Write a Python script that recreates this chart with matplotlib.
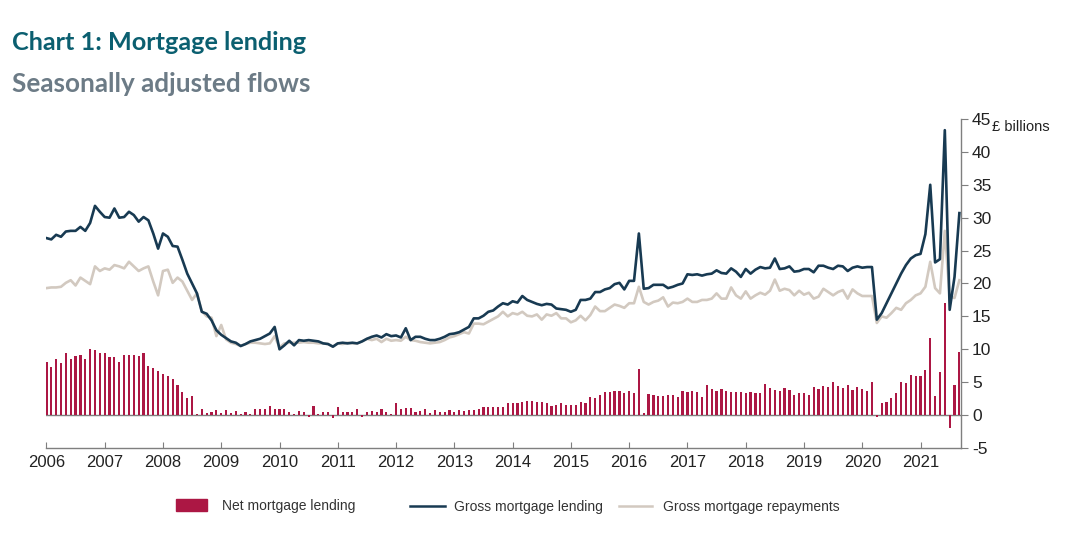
import numpy as np
import matplotlib
matplotlib.use("Agg")
import matplotlib.pyplot as plt
from matplotlib.patches import Patch
from matplotlib.lines import Line2D

# monthly data, Jan 2006 - Sep 2021, £ billions
gross = [
    26.9, 26.7, 27.4, 27.1, 27.9, 28.0, 28.0, 28.6, 28.0, 29.2, 31.8, 30.9,  # 2006
    30.1, 30.0, 31.4, 30.0, 30.1, 30.9, 30.4, 29.4, 30.1, 29.6, 27.6, 25.3,  # 2007
    27.6, 27.1, 25.7, 25.6, 23.6, 21.5, 20.0, 18.5, 15.7, 15.4, 14.4, 12.9,  # 2008
    12.2, 11.7, 11.2, 11.0, 10.5, 10.8, 11.2, 11.4, 11.6, 12.0, 12.4, 13.4,  # 2009
    10.0, 10.6, 11.3, 10.6, 11.4, 11.3, 11.4, 11.3, 11.2, 10.9, 10.8, 10.4,  # 2010
    10.9, 11.0, 10.9, 11.0, 10.9, 11.2, 11.6, 11.9, 12.1, 11.8, 12.3, 12.0,  # 2011
    12.1, 11.8, 13.2, 11.4, 11.9, 11.9, 11.6, 11.4, 11.4, 11.6, 11.9, 12.3,  # 2012
    12.4, 12.6, 13.0, 13.4, 14.7, 14.7, 15.1, 15.7, 15.9, 16.5, 17.0, 16.8,  # 2013
    17.3, 17.1, 18.1, 17.5, 17.2, 16.9, 16.7, 16.9, 16.8, 16.2, 16.1, 16.0,  # 2014
    15.7, 16.0, 17.5, 17.5, 17.7, 18.7, 18.7, 19.1, 19.3, 19.9, 20.1, 19.1,  # 2015
    20.4, 20.4, 27.6, 19.2, 19.3, 19.8, 19.8, 19.8, 19.3, 19.5, 19.8, 20.0,  # 2016
    21.4, 21.3, 21.4, 21.2, 21.4, 21.5, 22.0, 21.6, 21.5, 22.3, 21.8, 21.0,  # 2017
    22.2, 21.5, 22.1, 22.5, 22.3, 22.4, 23.8, 22.2, 22.3, 22.6, 21.8, 21.9,  # 2018
    22.2, 22.2, 21.7, 22.7, 22.7, 22.4, 22.2, 22.7, 22.6, 21.9, 22.4, 22.6,  # 2019
    22.4, 22.5, 22.5, 14.5, 15.5, 17.0, 18.5, 20.0, 21.5, 22.8, 23.8, 24.3,  # 2020
    24.5, 27.5, 35.0, 23.2, 23.7, 43.3, 16.0, 21.0, 30.7,                    # 2021
]

repayments = [
    19.3, 19.4, 19.4, 19.5, 20.1, 20.5, 19.7, 20.9, 20.4, 19.9, 22.6, 21.9,
    22.3, 22.1, 22.8, 22.6, 22.3, 23.3, 22.6, 21.9, 22.3, 22.6, 20.3, 18.2,
    21.9, 22.1, 20.1, 20.9, 20.3, 18.9, 17.5, 18.5, 15.8, 15.0, 14.8, 12.0,
    13.7, 11.5, 11.0, 10.8, 10.5, 10.8, 11.0, 11.0, 10.9, 10.8, 10.9, 12.0,
    10.3, 10.9, 11.0, 11.0, 11.0, 11.1, 11.0, 11.0, 10.9, 10.9, 10.8, 10.4,
    10.9, 10.8, 11.0, 10.9, 10.9, 11.2, 11.6, 11.4, 11.6, 11.1, 11.6, 11.3,
    11.4, 11.3, 11.9, 11.4, 11.3, 11.1, 11.0, 10.9, 11.0, 11.1, 11.4, 11.8,
    12.0, 12.3, 12.6, 12.4, 13.9, 13.9, 13.8, 14.2, 14.6, 15.0, 15.7, 15.0,
    15.5, 15.3, 15.7, 15.1, 15.0, 15.3, 14.5, 15.3, 15.1, 15.5, 14.7, 14.7,
    14.1, 14.4, 15.1, 14.4, 15.2, 16.5, 15.8, 15.8, 16.3, 16.8, 16.6, 16.3,
    17.0, 17.0, 19.5, 17.2, 16.8, 17.2, 17.4, 17.9, 16.5, 17.1, 17.0, 17.2,
    17.7, 17.2, 17.2, 17.5, 17.5, 17.7, 18.5, 17.7, 17.7, 19.4, 18.2, 17.7,
    18.8, 17.7, 18.2, 18.6, 18.3, 18.9, 20.6, 18.9, 19.2, 19.0, 18.2, 18.9,
    18.3, 18.6, 17.7, 18.0, 19.2, 18.7, 18.2, 18.7, 19.0, 17.7, 19.1, 18.5,
    18.1, 18.1, 18.1, 14.0, 15.0, 14.8, 15.5, 16.3, 16.0, 17.0, 17.5, 18.2,
    18.5, 19.5, 23.3, 19.3, 18.5, 28.0, 18.0, 17.8, 20.5,
]

net = [
    8.1, 7.3, 8.6, 7.9, 9.4, 8.5, 9.0, 9.1, 8.6, 10.1, 9.9, 9.5,
    9.4, 8.9, 8.9, 8.1, 9.2, 9.1, 9.1, 9.0, 9.5, 7.5, 7.1, 6.7,
    6.2, 5.9, 5.5, 4.6, 3.5, 2.6, 2.9, 0.1, 1.0, 0.3, 0.5, 0.8,
    0.3, 0.8, 0.3, 0.6, 0.2, 0.4, 0.1, 0.9, 0.9, 1.0, 1.4, 1.0,
    1.0, 1.0, 0.4, 0.1, 0.6, 0.5, -0.25, 1.4, 0.2, 0.4, 0.4, -0.4,
    1.3, 0.4, 0.4, 0.4, 1.0, -0.3, 0.5, 0.7, 0.4, 0.9, 0.5, 0.1,
    1.8, 1.0, 1.1, 1.1, 0.4, 0.7, 0.9, 0.3, 0.8, 0.5, 0.5, 0.8,
    0.4, 0.8, 0.7, 0.8, 0.8, 1.0, 1.2, 1.3, 1.3, 1.3, 1.2, 1.9,
    1.9, 1.9, 2.0, 2.2, 2.2, 2.0, 2.0, 1.8, 1.4, 1.5, 1.9, 1.5,
    1.6, 1.6, 2.0, 1.8, 2.8, 2.6, 3.0, 3.5, 3.5, 3.6, 3.6, 3.3,
    3.6, 3.4, 7.0, 0.25, 3.2, 3.0, 2.9, 2.9, 3.0, 3.0, 2.7, 3.7,
    3.5, 3.6, 3.5, 2.8, 4.6, 3.9, 3.7, 4.0, 3.7, 3.5, 3.5, 3.5,
    3.3, 3.5, 3.4, 3.3, 4.8, 4.1, 3.8, 3.7, 4.1, 3.8, 3.1, 3.3,
    3.4, 3.0, 4.3, 4.0, 4.4, 4.3, 5.0, 4.4, 4.1, 4.6, 3.8, 4.2,
    4.0, 3.7, 5.1, -0.3, 1.8, 2.0, 2.6, 3.3, 5.1, 4.9, 6.1, 5.9,
    5.9, 6.8, 11.7, 2.9, 6.5, 17.0, -2.0, 4.5, 9.6,
]

years = [str(y) for y in range(2006, 2022)]
yticks = list(range(-5, 50, 5))

red = "#ac1744"
navy = "#183a52"
beige = "#d2c9c0"
axis_grey = "#7f7f7f"

months = np.arange(len(gross))

fig = plt.figure(figsize=(10.67, 5.35), dpi=100)
ax = fig.add_axes([0.0435, 0.1626, 0.857, 0.615])

ax.bar(months, net, width=0.45, color=red, zorder=2)
ax.axhline(0, color=axis_grey, lw=1, zorder=1)
ax.plot(months, repayments, color=beige, lw=1.9, zorder=3)
ax.plot(months, gross, color=navy, lw=1.9, zorder=4)

ax.set_xlim(0, 188.3)
ax.set_ylim(-5, 45)

ax.set_xticks(np.arange(0, 12 * len(years), 12))
ax.set_xticklabels(years, fontsize=12, family="Liberation Sans", color="#222222")
ax.set_yticks(yticks)
ax.set_yticklabels([str(v) for v in yticks], fontsize=12.5, family="Liberation Sans", color="#222222")
ax.yaxis.tick_right()

for s in ["top", "left"]:
    ax.spines[s].set_visible(False)
for s in ["right", "bottom"]:
    ax.spines[s].set_color(axis_grey)
    ax.spines[s].set_linewidth(1)
ax.tick_params(axis="x", direction="in", length=4, color=axis_grey, pad=5)
ax.tick_params(axis="y", direction="out", length=5, color=axis_grey, pad=3)

ax.text(1.034, 0.976, "£ billions", transform=ax.transAxes, fontsize=10.5,
        family="Liberation Sans", color="#222222", va="center", ha="left")

fig.text(0.011, 0.921, "Chart 1: Mortgage lending", fontsize=18.2, family="Lato",
         weight="bold", color="#0b5f70", va="center")
fig.text(0.011, 0.843, "Seasonally adjusted flows", fontsize=18.8, family="Lato",
         weight="bold", color="#6c7b86", va="center")

# legend, three separate pieces to match spacing
common = dict(frameon=False, borderpad=0, borderaxespad=0,
              prop={"family": "Liberation Sans", "size": 10}, loc="center left")
leg1 = fig.legend([Patch(color=red)], ["Net mortgage lending"], handlelength=2.2,
                  handleheight=1.0, handletextpad=1.1,
                  bbox_to_anchor=(176 / 1067, 1 - 506 / 535), **common)
leg2 = fig.legend([Line2D([], [], color=navy, lw=1.8)], ["Gross mortgage lending"],
                  handlelength=2.5, handletextpad=0.7,
                  bbox_to_anchor=(410 / 1067, 1 - 507 / 535), **common)
leg3 = fig.legend([Line2D([], [], color=beige, lw=1.8)], ["Gross mortgage repayments"],
                  handlelength=2.4, handletextpad=0.8,
                  bbox_to_anchor=(619 / 1067, 1 - 507 / 535), **common)
for lg in (leg1, leg2, leg3):
    for t in lg.get_texts():
        t.set_color("#333333")

fig.savefig("out.png", dpi=100)
